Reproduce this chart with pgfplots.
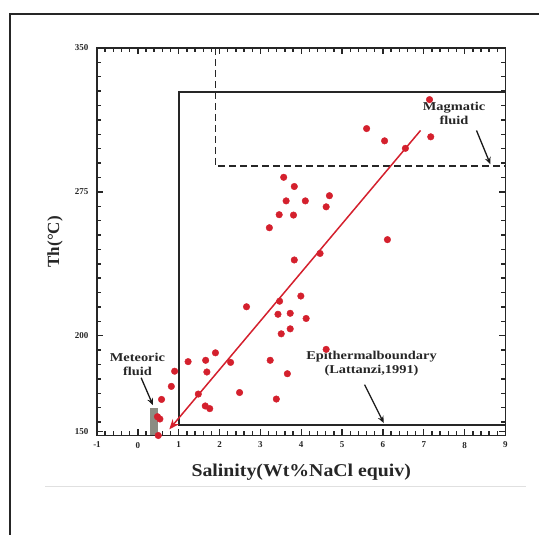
\documentclass[border=0pt]{standalone}
\usepackage{fontspec}
\setmainfont{Liberation Serif}
\usepackage{pgfplots}
\pgfplotsset{compat=1.18}
\usetikzlibrary{arrows.meta}
\definecolor{ptred}{RGB}{212,32,45}
\definecolor{bargray}{RGB}{140,140,130}
\begin{document}
\begin{tikzpicture}
\useasboundingbox (0,0) rectangle (539pt,535pt);
\draw[line width=2.2pt, black!85] (10pt,-2pt) -- (10pt,521.3pt) -- (541pt,521.3pt);
\draw[black!12, line width=1pt] (45pt,48.5pt) -- (526pt,48.5pt);
\begin{axis}[
  at={(97pt,99.5pt)}, anchor=south west,
  scale only axis, width=408.5pt, height=387.5pt,
  xmin=-1, xmax=9, ymin=148, ymax=350,
  clip=false,
  axis line style={line width=1.8pt, black!85},
  tick align=inside,
  xtick={-1,0,...,9}, minor x tick num=4,
  ytick={150,200,275,350},
  minor ytick={155,162.5,170,177.5,185,192.5,207.5,215,222.5,230,237.5,245,252.5,260,267.5,282.5,290,297.5,305,312.5,320,327.5,335,342.5},
  major tick length=6pt, minor tick length=4pt,
  every tick/.style={line width=1.4pt, black!85},
  /pgf/number format/assume math mode=true,
  ticklabel style={font=\bfseries\fontsize{9}{10}\selectfont, black!85},
  xticklabel style={yshift=-3pt},
  yticklabel style={xshift=-5pt},
  xlabel={Salinity(Wt\%NaCl equiv)},
  ylabel={Th(°C)},
  xlabel style={at={(rel axis cs:0.5,-0.096)}, anchor=center, font=\bfseries\fontsize{18}{20}\selectfont, xscale=1.1, black!85},
  ylabel style={at={(rel axis cs:-0.103,0.5)}, anchor=center, font=\bfseries\fontsize{17}{19}\selectfont, black!85},
]
% magmatic dashed box
\addplot[black!85, line width=1.8pt, dash pattern=on 7pt off 4pt] coordinates {(1.9,350) (1.9,288.3) (9,288.3)};
% epithermal solid box
\addplot[black!85, line width=2pt] coordinates {(9,327.2) (1,327.2) (1,153.5) (9,153.5)};
% meteoric bar
\addplot[fill=bargray, draw=none] coordinates {(0.30,148) (0.50,148) (0.50,162.3) (0.30,162.3)} -- cycle;
% annotation arrows
\addplot[black!90, line width=1.3pt, -{Stealth[length=7pt,width=6pt]}] coordinates {(0.08,178.1) (0.37,163.8)};
\addplot[black!90, line width=1.3pt, -{Stealth[length=7pt,width=6pt]}] coordinates {(5.55,174.5) (6.02,154.5)};
\addplot[black!90, line width=1.3pt, -{Stealth[length=7pt,width=6pt]}] coordinates {(8.29,307.0) (8.63,289.4)};
% data points
\addplot[only marks, mark=*, mark size=3.3pt, color=ptred] table {
x y
7.14 323.1
5.60 308.0
6.04 301.6
7.17 303.7
6.55 297.7
3.57 282.6
3.83 277.8
3.63 270.3
4.10 270.3
4.69 273.0
4.61 267.2
3.46 263.1
3.81 262.9
3.22 256.3
6.11 250.1
4.46 242.9
3.83 239.5
3.99 220.7
2.66 215.1
3.47 218.0
3.43 211.2
3.73 211.7
4.12 209.0
3.73 203.6
3.51 201.0
4.61 192.9
1.90 191.1
1.23 186.5
1.66 187.2
2.27 186.1
3.24 187.2
0.90 181.5
1.69 181.1
3.66 180.2
0.82 173.6
1.48 169.6
2.49 170.4
0.58 166.8
3.39 167.0
1.65 163.4
1.76 162.0
0.48 157.8
0.54 156.6
0.50 148.0
};
% trend line
\addplot[ptred, line width=1.5pt, {Stealth[length=10pt,width=8pt]}-] coordinates {(0.77,151.2) (6.92,307.0)};
% labels
\node[align=center, font=\bfseries\fontsize{12}{14}\selectfont, xscale=1.2, black!85] at (axis cs:-0.01,185.2) {Meteoric\\fluid};
\node[align=center, font=\bfseries\fontsize{12}{14}\selectfont, xscale=1.2, black!85] at (axis cs:5.72,185.6) {Epithermalboundary\\(Lattanzi,1991)};
\node[align=center, font=\bfseries\fontsize{12}{14}\selectfont, xscale=1.2, black!85] at (axis cs:7.74,316.0) {Magmatic\\fluid};
\end{axis}
\end{tikzpicture}
\end{document}
